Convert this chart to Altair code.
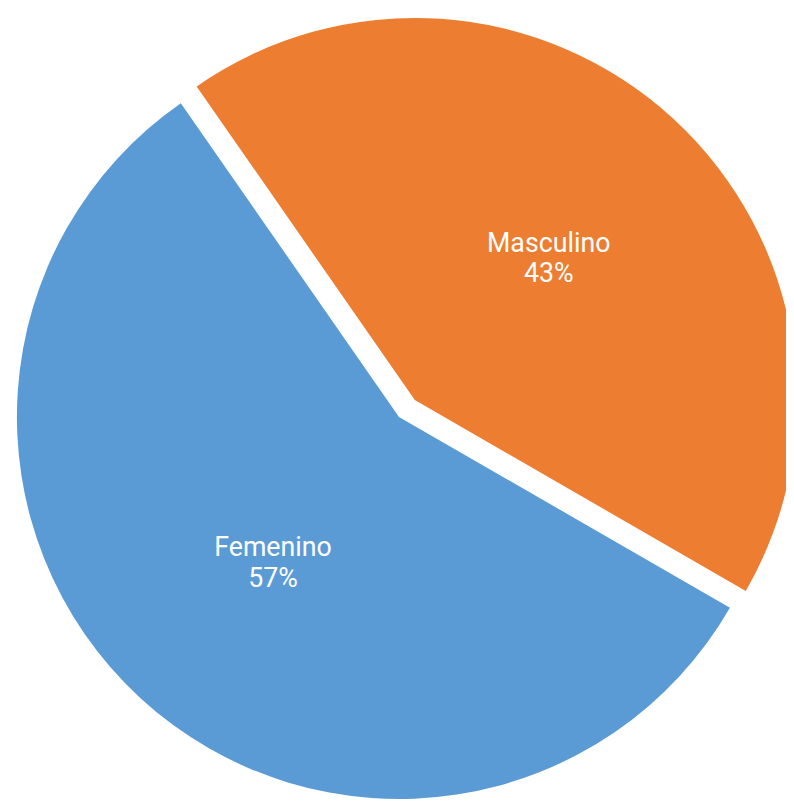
import math
import altair as alt
import pandas as pd

categories = ["Femenino", "Masculino"]
percentages = [57, 43]
colors = ["#5B9BD5", "#ED7D31"]

df = pd.DataFrame({"cat": categories, "pct": percentages})

start_angle = 2.094  # radians, clockwise from 12 o'clock
theta_scale = alt.Scale(domain=[0, 100], range=[start_angle, start_angle + 2 * math.pi])

base = (
    alt.Chart(df)
    .transform_window(end="sum(pct)", sort=[alt.SortField("cat", order="ascending")],
                      frame=[None, 0])
    .transform_calculate(start="datum.end - datum.pct",
                         mid="datum.end - datum.pct / 2",
                         label="[datum.cat, datum.pct + '%']")
)

centers = {"Femenino": (395, 409), "Masculino": (411, 392)}
label_dy = {"Femenino": -10, "Masculino": -15}
R = 386

layers = []
for cat, col in zip(categories, colors):
    cx, cy = centers[cat]
    sub = base.transform_filter(alt.datum.cat == cat)
    arc = sub.mark_arc(color=col).encode(
        theta=alt.Theta("start:Q", scale=theta_scale),
        theta2="end:Q",
        radius=alt.value(R),
        x=alt.value(cx),
        y=alt.value(cy),
    )
    txt = sub.mark_text(font="Roboto", fontSize=27, color="white", lineHeight=31,
                        align="center", baseline="middle", dx=4,
                        dy=label_dy[cat]).encode(
        theta=alt.Theta("mid:Q", scale=theta_scale),
        radius=alt.value(194),
        x=alt.value(cx),
        y=alt.value(cy),
        text="label:N",
    )
    layers += [arc, txt]

chart = alt.layer(*layers).properties(
    width=786, height=794,
    autosize=alt.AutoSizeParams(type="none"),
    padding=0,
).configure_view(stroke=None)

chart.save("out.html", embed_options={"renderer": "svg", "actions": False})
